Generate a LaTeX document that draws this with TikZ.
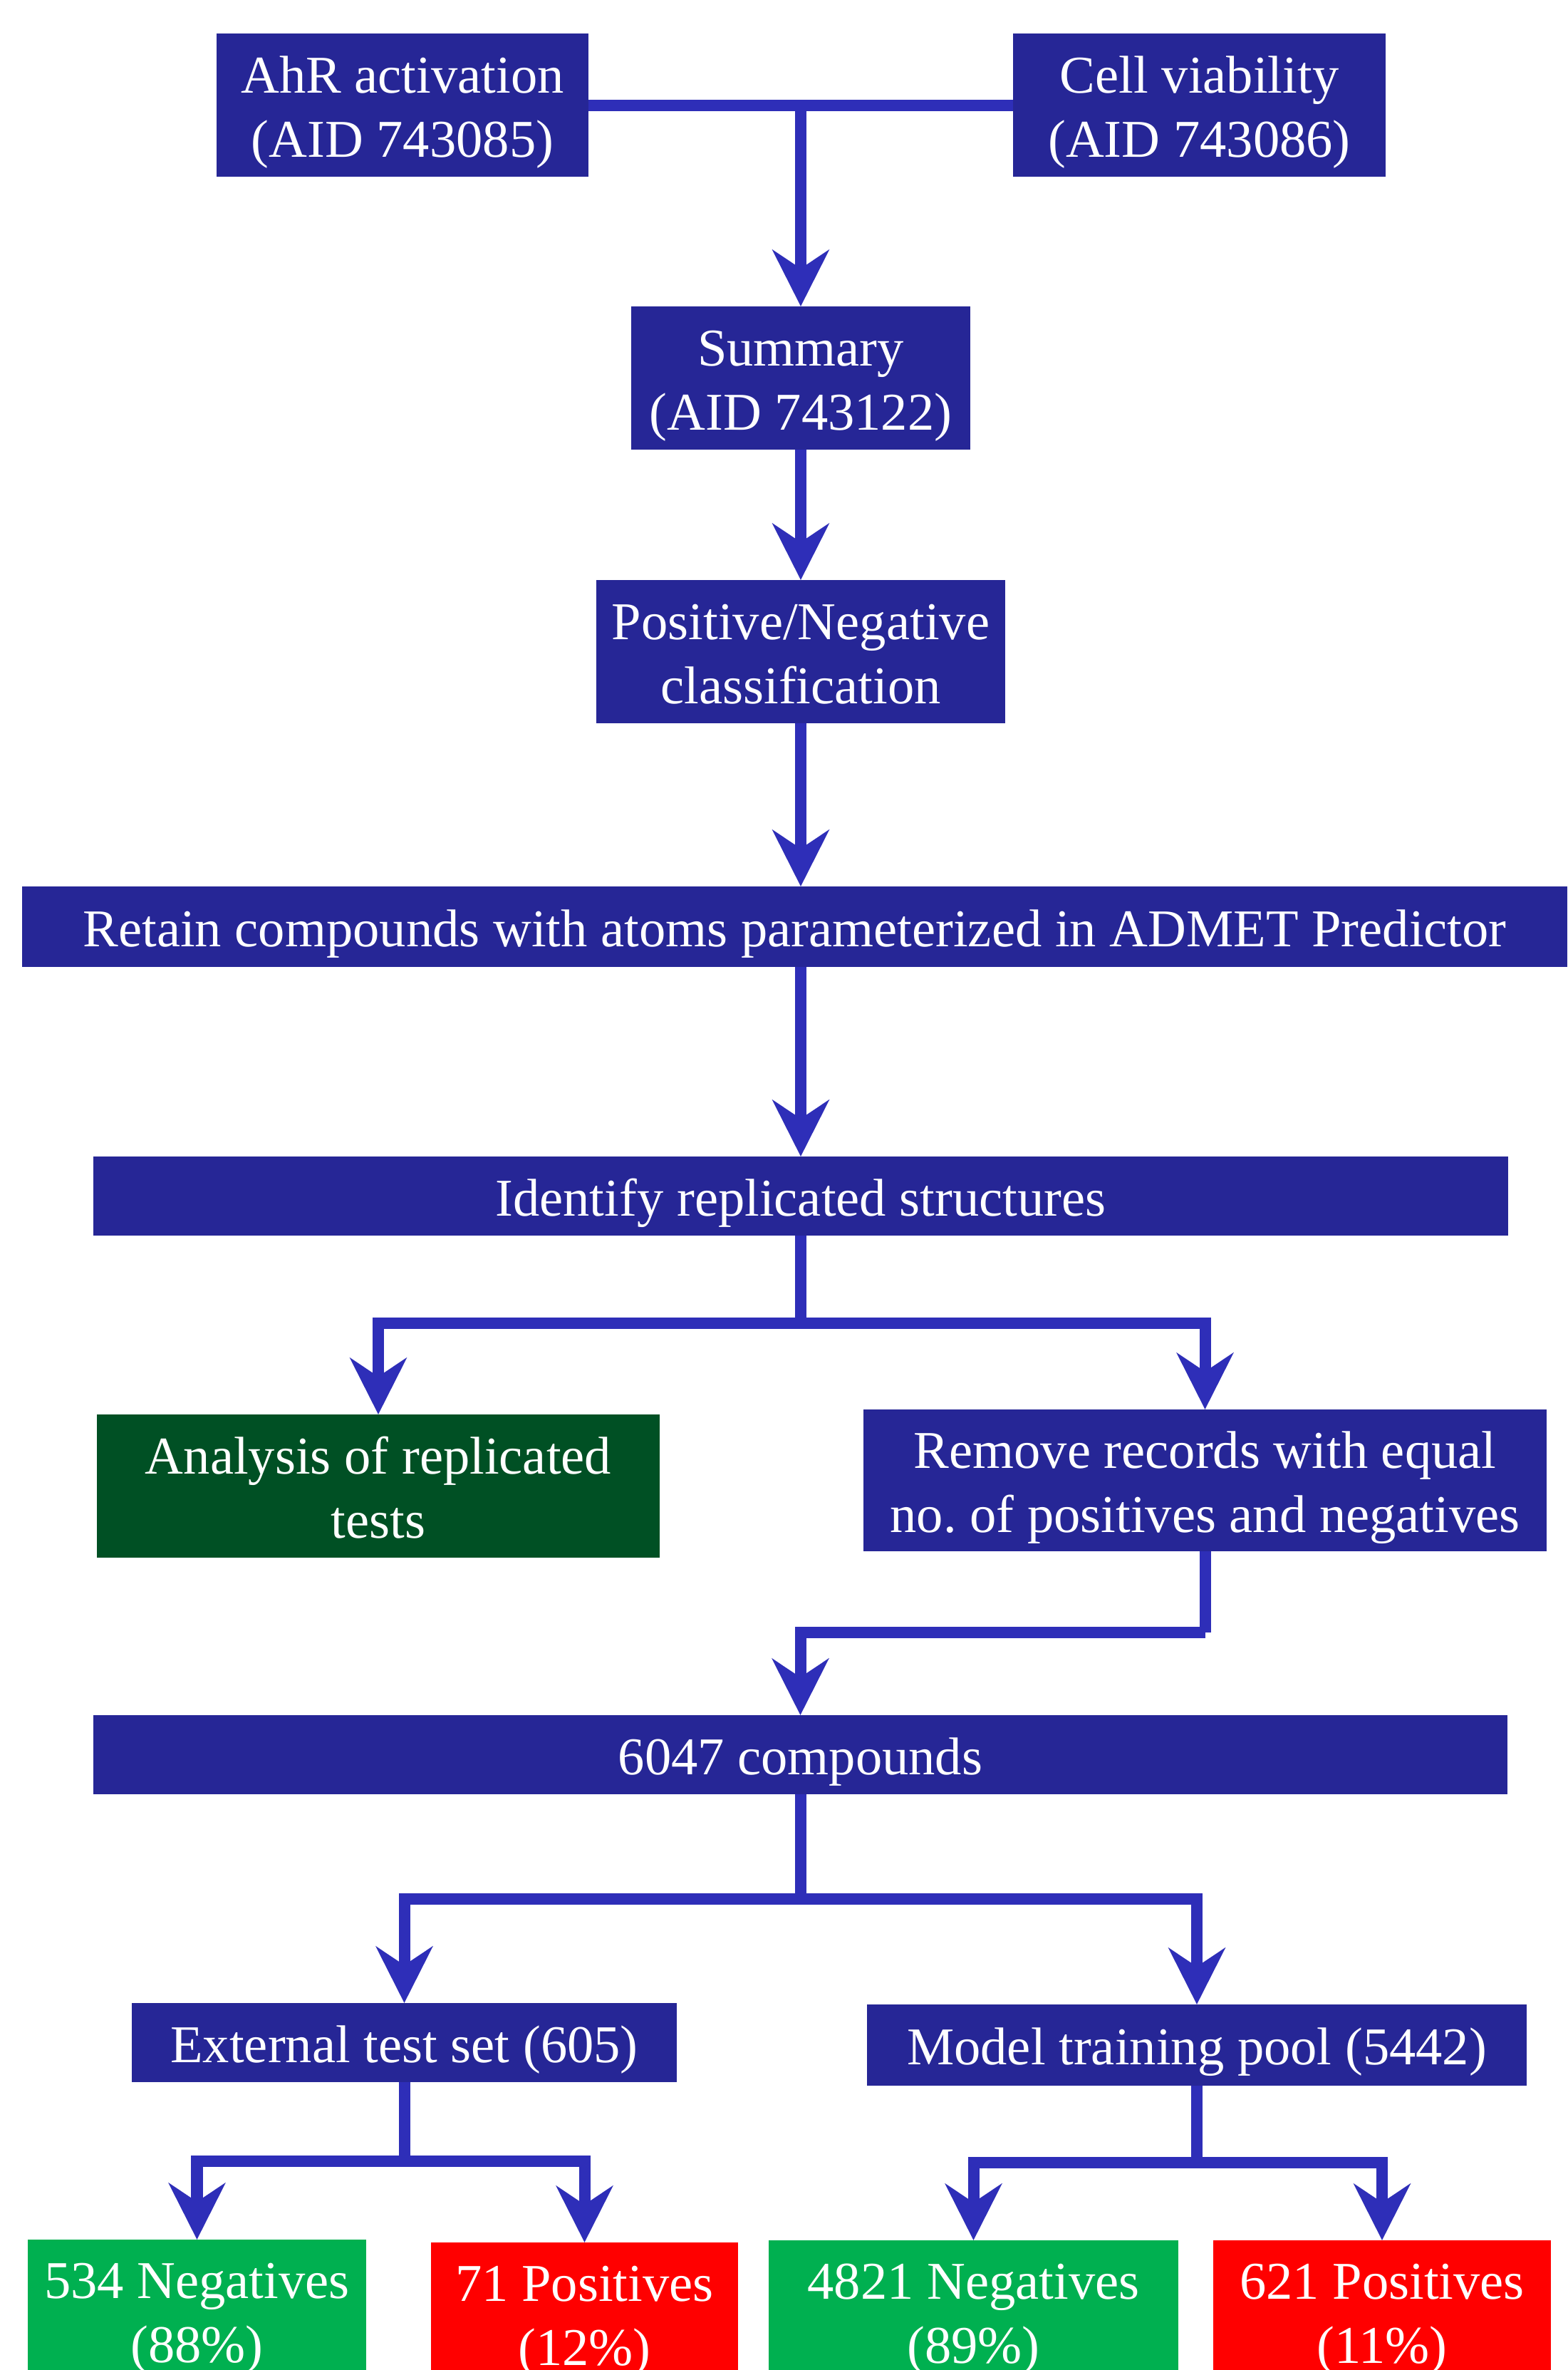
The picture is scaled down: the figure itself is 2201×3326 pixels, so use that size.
\documentclass[tikz,border=0pt]{standalone}
\usepackage{fontspec}
\setmainfont{Liberation Serif}
\usetikzlibrary{arrows.meta}
\definecolor{boxblue}{RGB}{38,38,150}
\definecolor{arrowblue}{RGB}{46,46,184}
\definecolor{darkgreen}{RGB}{0,80,36}
\definecolor{brightgreen}{RGB}{0,176,80}
\definecolor{brightred}{RGB}{255,0,0}
\newcommand\boxtxt[1]{\raisebox{-0.095cm}[\height][\depth]{\begin{tabular}{@{}c@{}}#1\end{tabular}}}
\tikzset{
  fbox/.style={fill=boxblue, text=white, inner sep=0pt, outer sep=0pt, align=center,
    font=\fontsize{21.2}{25.6}\selectfont\frenchspacing},
  conn/.style={draw=arrowblue, line width=0.16cm},
  arr/.style={conn, -{Stealth[length=0.79cm,width=0.79cm,inset=0.26cm]}},
}
\begin{document}
\begin{tikzpicture}[x=0.01cm,y=-0.01cm]
\useasboundingbox (0,0) rectangle (2201,3326);
\clip (0,0) rectangle (2201,3326);
\fill[white] (0,0) rectangle (2201,3326);

\node[fbox, minimum width=5.22cm, minimum height=2.01cm] (ahr) at (565,147.5) {\boxtxt{AhR activation\\(AID 743085)}};
\node[fbox, minimum width=5.23cm, minimum height=2.01cm] (cell) at (1683.5,147.5) {\boxtxt{Cell viability\\(AID 743086)}};
\node[fbox, minimum width=4.76cm, minimum height=2.01cm] (summ) at (1124,530.5) {\boxtxt{Summary\\(AID 743122)}};
\node[fbox, minimum width=5.74cm, minimum height=2.01cm] (posneg) at (1124,914.5) {\boxtxt{Positive/Negative\\classification}};
\node[fbox, minimum width=21.67cm, minimum height=1.13cm] (retain) at (1115.5,1300.5) {\boxtxt{Retain compounds with atoms parameterized in ADMET Predictor}};
\node[fbox, minimum width=19.84cm, minimum height=1.11cm] (ident) at (1124,1678.5) {\boxtxt{Identify replicated structures}};
\node[fbox, fill=darkgreen, minimum width=7.90cm, minimum height=2.01cm] (anal) at (531,2085.5) {\boxtxt{Analysis of replicated\\tests}};
\node[fbox, minimum width=9.59cm, minimum height=1.99cm] (remove) at (1691.5,2077.5) {\boxtxt{Remove records with equal\\no. of positives and negatives}};
\node[fbox, minimum width=19.83cm, minimum height=1.11cm] (n6047) at (1123.5,2462.5) {\boxtxt{6047 compounds}};
\node[fbox, minimum width=7.65cm, minimum height=1.11cm] (ext) at (567.5,2866.5) {\boxtxt{External test set (605)}};
\node[fbox, minimum width=9.26cm, minimum height=1.14cm] (model) at (1680,2870) {\boxtxt{Model training pool (5442)}};
\node[fbox, fill=brightgreen, minimum width=4.75cm, minimum height=2.00cm] (neg1) at (276.5,3243) {\boxtxt{534 Negatives\\(88\%)}};
\node[fbox, fill=brightred, minimum width=4.31cm, minimum height=2.00cm] (pos1) at (820.5,3247) {\boxtxt{71 Positives\\(12\%)}};
\node[fbox, fill=brightgreen, minimum width=5.75cm, minimum height=2.00cm] (neg2) at (1366.5,3244) {\boxtxt{4821 Negatives\\(89\%)}};
\node[fbox, fill=brightred, minimum width=4.74cm, minimum height=2.00cm] (pos2) at (1940,3244) {\boxtxt{621 Positives\\(11\%)}};

\coordinate (j1) at (1124,148);
\coordinate (j2) at (1124,1857);
\coordinate (j3) at (1691.5,2291);
\coordinate (j4) at (1123.5,2665);
\coordinate (j5) at (567.5,3033);
\coordinate (j6) at (1680,3035);

\draw[conn] (ahr.east |- j1) -- (cell.west |- j1);
\draw[arr] (j1) -- (summ.north);
\draw[arr] (summ.south) -- (posneg.north);
\draw[arr] (posneg.south) -- (posneg.south |- retain.north);
\draw[arr] (ident.north |- retain.south) -- (ident.north);
\draw[conn] (ident.south) -- (j2);
\draw[arr] (j2) -| (anal.north);
\draw[arr] (j2) -| (remove.north);
\draw[conn] (remove.south) -- (j3);
\draw[arr] (j3) -| (n6047.north);
\draw[conn] (n6047.south) -- (j4);
\draw[arr] (j4) -| (ext.north);
\draw[arr] (j4) -| (model.north);
\draw[conn] (ext.south) -- (j5);
\draw[arr] (j5) -| (neg1.north);
\draw[arr] (j5) -| (pos1.north);
\draw[conn] (model.south) -- (j6);
\draw[arr] (j6) -| (neg2.north);
\draw[arr] (j6) -| (pos2.north);
\end{tikzpicture}
\end{document}
